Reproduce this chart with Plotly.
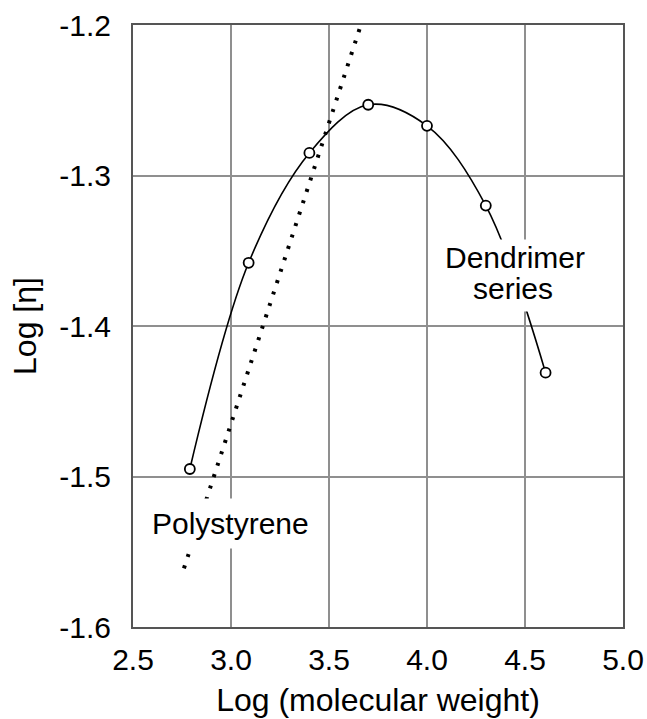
import plotly.graph_objects as go

# Dendrimer series: log(molecular weight) vs log intrinsic viscosity
dend_logm = [2.79, 3.09, 3.40, 3.70, 4.00, 4.30, 4.605]
dend_logeta = [-1.495, -1.358, -1.285, -1.253, -1.267, -1.320, -1.431]

# Polystyrene reference line (end points)
ps_logm = [2.76, 3.66]
ps_logeta = [-1.561, -1.201]

x_ticks = [2.5, 3.0, 3.5, 4.0, 4.5, 5.0]
x_tick_text = ["2.5", "3.0", "3.5", "4.0", "4.5", "5.0"]
y_ticks = [-1.6, -1.5, -1.4, -1.3, -1.2]
y_tick_text = ["-1.6", "-1.5", "-1.4", "-1.3", "-1.2"]

FONT = "Liberation Sans, Arial, Helvetica, sans-serif"

fig = go.Figure()

fig.add_trace(go.Scatter(
    x=ps_logm, y=ps_logeta, mode="lines",
    line=dict(color="black", width=4, dash="3px,9px"),
    hoverinfo="skip", showlegend=False,
))

fig.add_trace(go.Scatter(
    x=dend_logm, y=dend_logeta, mode="lines",
    line=dict(color="black", width=1.6, shape="spline", smoothing=1.0),
    hoverinfo="skip", showlegend=False,
))

fig.add_trace(go.Scatter(
    x=dend_logm, y=dend_logeta, mode="markers",
    marker=dict(symbol="circle", size=10, color="white",
                line=dict(color="black", width=1.8)),
    hoverinfo="skip", showlegend=False,
))

label_font = dict(family=FONT, size=30, color="black")
# second line first so the first line's box sits on top of it
fig.add_annotation(x=4.439, y=-1.375, text="series", showarrow=False,
                   xanchor="center", yanchor="middle", font=label_font,
                   bgcolor="white", borderpad=6)
fig.add_annotation(x=4.449, y=-1.3545, text="Dendrimer", showarrow=False,
                   xanchor="center", yanchor="middle", font=label_font,
                   bgcolor="white", borderpad=1)
fig.add_annotation(x=2.999, y=-1.531, text="Polystyrene", showarrow=False,
                   xanchor="center", yanchor="middle", font=label_font,
                   bgcolor="white", borderpad=8)

axis_common = dict(
    showgrid=True, gridcolor="#8f8f8f", gridwidth=1.5,
    showline=True, linecolor="#555555", linewidth=2, mirror=True,
    zeroline=False, ticks="", tickfont=dict(family=FONT, size=30, color="black"),
)

fig.update_xaxes(
    range=[2.5, 5.0], tickvals=x_ticks, ticktext=x_tick_text,
    ticklabelstandoff=5,
    title=dict(text="Log (molecular weight)",
               font=dict(family=FONT, size=32, color="black"), standoff=14),
    **axis_common,
)
fig.update_yaxes(
    range=[-1.6, -1.2], tickvals=y_ticks, ticktext=y_tick_text,
    ticklabelstandoff=14,
    title=dict(text="Log [η]",
               font=dict(family=FONT, size=32, color="black"), standoff=13),
    **axis_common,
)

fig.update_layout(
    width=647, height=719,
    margin=dict(l=133, r=24, t=25, b=92, autoexpand=False),
    paper_bgcolor="white", plot_bgcolor="white",
    showlegend=False,
)

fig.write_html("out.html")
